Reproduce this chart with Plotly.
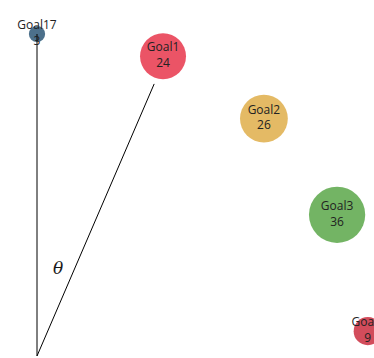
import math
import plotly.graph_objects as go

# ---- data ----
goals = ["Goal17", "Goal1", "Goal2", "Goal3", "Goal4"]
values = [3, 24, 26, 36, 9]
angles_deg = [0.0, 22.8, 43.7, 64.8, 85.7]      # angle from vertical
radii = [1.0, 1.01, 1.02, 1.03, 1.03]
colors = ["#19486A", "#E5243B", "#DDA63A", "#4C9F38", "#C5192D"]
theta_line_angle_deg = 23.3
theta_line_length = 0.92

xs = [r * math.sin(math.radians(a)) for r, a in zip(radii, angles_deg)]
ys = [r * math.cos(math.radians(a)) for r, a in zip(radii, angles_deg)]
labels = [f"{g}<br>{v}" for g, v in zip(goals, values)]

fig = go.Figure()

# bubbles
fig.add_trace(go.Scatter(
    x=xs, y=ys, mode="markers",
    marker=dict(size=values, sizemode="area", sizeref=2 / 88.0,
                color=colors, opacity=0.78, line=dict(width=0)),
    hoverinfo="skip", showlegend=False,
))

# reference lines (vertical to first goal, and the theta ray)
tx = theta_line_length * math.sin(math.radians(theta_line_angle_deg))
ty = theta_line_length * math.cos(math.radians(theta_line_angle_deg))
fig.add_trace(go.Scatter(
    x=[0, xs[0], None, 0, tx], y=[0, ys[0], None, 0, ty],
    mode="lines", line=dict(color="black", width=1),
    hoverinfo="skip", showlegend=False,
))

# labels
fig.add_trace(go.Scatter(
    x=xs, y=ys, mode="text", text=labels,
    textposition="middle center",
    textfont=dict(family="Open Sans", size=12, color="#222222"),
    hoverinfo="skip", showlegend=False,
))

fig.add_annotation(
    x=0.065, y=0.273, xref="x", yref="y", text="<i>θ</i>", showarrow=False,
    font=dict(family="DejaVu Serif", size=17, color="#1a1a1a"),
)

scale = 322.0
ox, oy = 37.0, 356.0   # origin in window pixels
fig.update_layout(
    width=374, height=358,
    margin=dict(l=0, r=0, t=0, b=0),
    paper_bgcolor="white", plot_bgcolor="white",
    xaxis=dict(range=[(0 - ox) / scale, (374 - ox) / scale], visible=False, fixedrange=True),
    yaxis=dict(range=[(oy - 358) / scale, (oy - 0) / scale], visible=False, fixedrange=True),
    showlegend=False,
)

fig.write_html(
    "out.html",
    config={"displayModeBar": False, "staticPlot": True},
    post_script="document.body.style.margin='0';document.body.style.overflow='hidden';",
)
